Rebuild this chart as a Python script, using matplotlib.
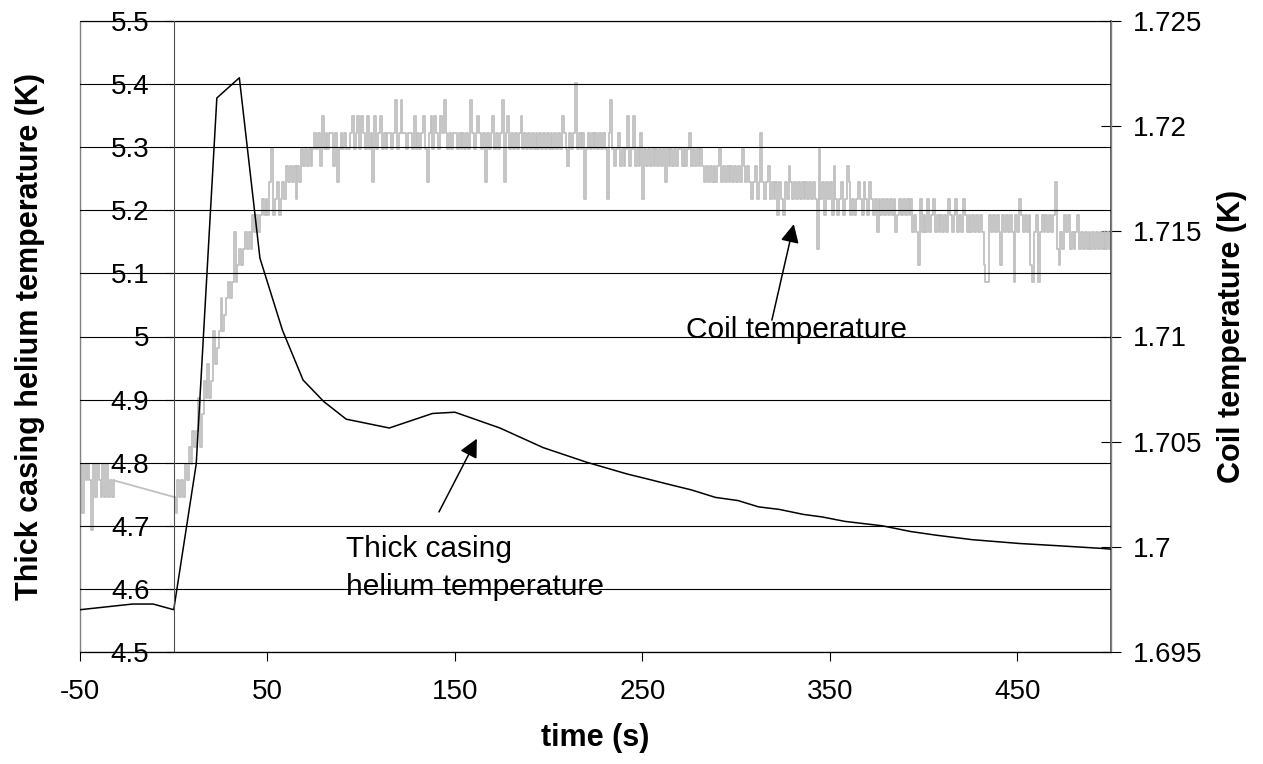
import numpy as np
import matplotlib
matplotlib.use('Agg')
import matplotlib.pyplot as plt
from matplotlib.patches import Rectangle

# thick casing helium temperature (left axis)
HE_TIME = [-50, -22, -11, 0, 12, 23, 35, 46, 58, 69, 80, 92, 115, 138, 150, 174,
           197, 220, 242, 253, 265, 276, 289, 301, 312, 323, 336, 346, 358, 378,
           393, 407, 426, 451, 474, 496, 500]
HE_TEMP = [4.567, 4.576, 4.576, 4.567, 4.798, 5.378, 5.410, 5.124, 5.010, 4.931,
           4.897, 4.869, 4.855, 4.878, 4.880, 4.855, 4.824, 4.801, 4.782, 4.774,
           4.765, 4.757, 4.745, 4.740, 4.730, 4.726, 4.718, 4.714, 4.707, 4.700,
           4.691, 4.685, 4.678, 4.672, 4.668, 4.664, 4.663]

# coil thermometer reading, in steps of the sensor resolution, 1 sample per s
COIL_BASE = 1.7008
COIL_STEP = 0.000787
COIL_PRE_START = -50          # t = -50 .. -32 s
COIL_PRE = [4, 1, 4, 3, 4, 3, 0, 4, 2, 4, 3, 2, 4, 2, 4, 2, 3, 2, 3]
COIL_START = 0                # t = 0 .. 500 s
COIL = [
    2, 1, 3, 2, 3, 2, 4, 3, 5, 4, 6, 5, 6, 8, 5, 7, 9, 8, 10, 8,
    9, 12, 10, 11, 12, 14, 12, 13, 14, 15, 14, 15, 18, 15, 16, 17, 16, 17, 18, 17,
    18, 17, 19, 18, 19, 18, 19, 20, 19, 20, 19, 21, 23, 19, 20, 21, 19, 20, 21, 20,
    22, 21, 22, 21, 22, 20, 22, 21, 23, 22, 23, 22, 23, 22, 23, 24, 23, 24, 22, 25,
    23, 24, 23, 24, 24, 22, 24, 21, 23, 24, 23, 24, 23, 23, 24, 25, 23, 24, 25, 23,
    25, 24, 23, 25, 23, 24, 21, 25, 23, 24, 25, 23, 24, 23, 24, 24, 23, 24, 26, 23,
    24, 26, 24, 24, 23, 24, 24, 23, 25, 23, 24, 23, 24, 25, 23, 21, 24, 25, 23, 25,
    24, 23, 25, 24, 26, 24, 23, 24, 23, 24, 24, 23, 24, 23, 24, 23, 24, 23, 26, 24,
    23, 24, 25, 24, 23, 24, 21, 24, 23, 24, 25, 23, 24, 23, 24, 26, 21, 24, 25, 23,
    24, 23, 24, 23, 24, 25, 23, 24, 23, 24, 23, 24, 23, 24, 23, 24, 23, 24, 23, 24,
    23, 24, 23, 24, 23, 24, 23, 25, 24, 23, 22, 24, 23, 24, 27, 23, 24, 23, 24, 20,
    23, 24, 23, 24, 23, 24, 23, 24, 23, 24, 23, 20, 24, 26, 23, 22, 23, 24, 22, 23,
    22, 23, 25, 22, 23, 25, 22, 23, 22, 24, 20, 23, 22, 23, 22, 23, 22, 23, 22, 23,
    22, 23, 21, 23, 22, 23, 22, 23, 22, 23, 23, 22, 23, 22, 23, 24, 22, 23, 22, 23,
    22, 23, 22, 21, 22, 21, 22, 21, 22, 21, 22, 23, 21, 22, 21, 22, 21, 22, 21, 22,
    21, 22, 21, 23, 22, 21, 22, 21, 20, 21, 22, 20, 21, 24, 21, 20, 21, 22, 20, 21,
    20, 21, 19, 21, 20, 19, 21, 20, 22, 21, 20, 21, 20, 21, 20, 21, 20, 21, 20, 21,
    20, 21, 20, 17, 23, 20, 21, 19, 21, 20, 21, 19, 22, 20, 19, 20, 21, 19, 20, 22,
    21, 19, 20, 19, 20, 21, 20, 19, 21, 20, 19, 21, 20, 19, 20, 18, 20, 19, 20, 19,
    20, 19, 20, 19, 20, 18, 19, 20, 19, 20, 19, 20, 19, 20, 18, 19, 18, 16, 20, 18,
    19, 18, 20, 18, 19, 20, 18, 19, 18, 19, 18, 19, 18, 20, 19, 18, 19, 20, 18, 19,
    18, 20, 19, 18, 19, 18, 19, 18, 19, 18, 19, 18, 16, 15, 15, 19, 18, 19, 18, 19,
    18, 16, 19, 18, 19, 18, 19, 18, 15, 19, 18, 20, 19, 18, 19, 18, 19, 16, 15, 18,
    19, 15, 18, 19, 18, 19, 18, 19, 18, 19, 21, 17, 16, 18, 17, 19, 18, 19, 17, 18,
    17, 18, 19, 17, 18, 17, 18, 17, 18, 17, 18, 17, 18, 17, 18, 17, 18, 17, 18, 17,
    18,
]

LEFT_TICKS = [4.5, 4.6, 4.7, 4.8, 4.9, 5.0, 5.1, 5.2, 5.3, 5.4, 5.5]
RIGHT_TICKS = [1.695, 1.7, 1.705, 1.71, 1.715, 1.72, 1.725]
X_TICKS = [-50, 50, 150, 250, 350, 450]

plt.rcParams['font.family'] = ['Liberation Sans', 'DejaVu Sans']

pre_t = COIL_PRE_START + np.arange(len(COIL_PRE))
main_t = COIL_START + np.arange(len(COIL))
pre_T = COIL_BASE + COIL_STEP * np.array(COIL_PRE, dtype=float)
main_T = COIL_BASE + COIL_STEP * np.array(COIL, dtype=float)

fig = plt.figure(figsize=(12.63, 7.64), dpi=100)
ax = fig.add_axes([80/1263, 1-652/764, 1031/1263, 631/764])
ax2 = ax.twinx()
ax.set_zorder(ax2.get_zorder() + 1)
ax.patch.set_visible(False)

# logger samples drawn as steps, the gap before the trigger as a straight join
gray = '#c0c0c0'
ax2.plot(pre_t, pre_T, color=gray, lw=1.3, drawstyle='steps-post')
ax2.plot([pre_t[-1], main_t[0]], [pre_T[-1], main_T[0]], color=gray, lw=1.3)
ax2.plot(main_t, main_T, color=gray, lw=1.3, drawstyle='steps-post')
ax.plot(HE_TIME, HE_TEMP, color='black', lw=1.1)

ax.set_xlim(-50, 500)
ax.set_ylim(4.5, 5.5)
ax2.set_ylim(1.695, 1.725)

ax.set_xticks(X_TICKS)
ax.set_xticklabels([str(v) for v in X_TICKS])
ax.set_yticks(LEFT_TICKS)
ax.set_yticklabels(['%g' % v for v in LEFT_TICKS])
ax2.set_yticks(RIGHT_TICKS)
ax2.set_yticklabels(['%g' % v for v in RIGHT_TICKS])

ax.yaxis.grid(True, color='black', lw=0.8)
ax.xaxis.grid(False)

# excel style: value axis crosses at t = 0, plot area framed in grey
ax.spines['left'].set_position(('data', 0))
ax.spines['left'].set_color('#505050')
ax.spines['top'].set_visible(False)
ax.spines['right'].set_visible(False)
ax.spines['bottom'].set_color('black')
for s in ['left', 'top', 'bottom']:
    ax2.spines[s].set_visible(False)
ax2.spines['right'].set_color('#404040')
ax2.spines['right'].set_linewidth(1.2)
ax.add_patch(Rectangle((0, 0), 1, 1, transform=ax.transAxes, fill=False,
                       ec='#808080', lw=1.0, clip_on=False, zorder=0))

ax.tick_params(axis='x', direction='out', length=6.5, width=0.8, pad=13, labelsize=20)
ax.tick_params(axis='y', direction='out', length=6.5, width=0.8, pad=11, labelsize=20)
ax2.tick_params(axis='y', direction='inout', length=14, width=0.8, pad=9, labelsize=20)

ax.set_xlabel('time (s)', fontsize=22, fontweight='bold')
ax.xaxis.label.set_va('center')
ax.xaxis.set_label_coords(0.5, -0.136)
ax.set_ylabel('Thick casing helium temperature (K)', fontsize=22, fontweight='bold')
ax.yaxis.label.set_va('center')
ax.yaxis.set_label_coords(-0.0485, 0.5)
ax2.set_ylabel('Coil temperature (K)', fontsize=22, fontweight='bold')
ax2.yaxis.label.set_va('center')
ax2.yaxis.set_label_coords(1.117, 0.5)

# annotations
ax.text(273.2, 4.998, 'Coil temperature', fontsize=21.5, va='baseline')
ax.text(91.9, 4.651, 'Thick casing', fontsize=21.5, va='baseline')
ax.text(91.9, 4.590, 'helium temperature', fontsize=21.5, va='baseline')
arrow = dict(arrowstyle='-|>', color='black', lw=1.1, mutation_scale=28,
             shrinkA=0, shrinkB=0)
ax.annotate('', xy=(330.8, 5.178), xytext=(319.1, 5.026), arrowprops=arrow)
ax.annotate('', xy=(161.7, 4.838), xytext=(141.5, 4.722), arrowprops=arrow)

fig.savefig('out.png', dpi=100)
